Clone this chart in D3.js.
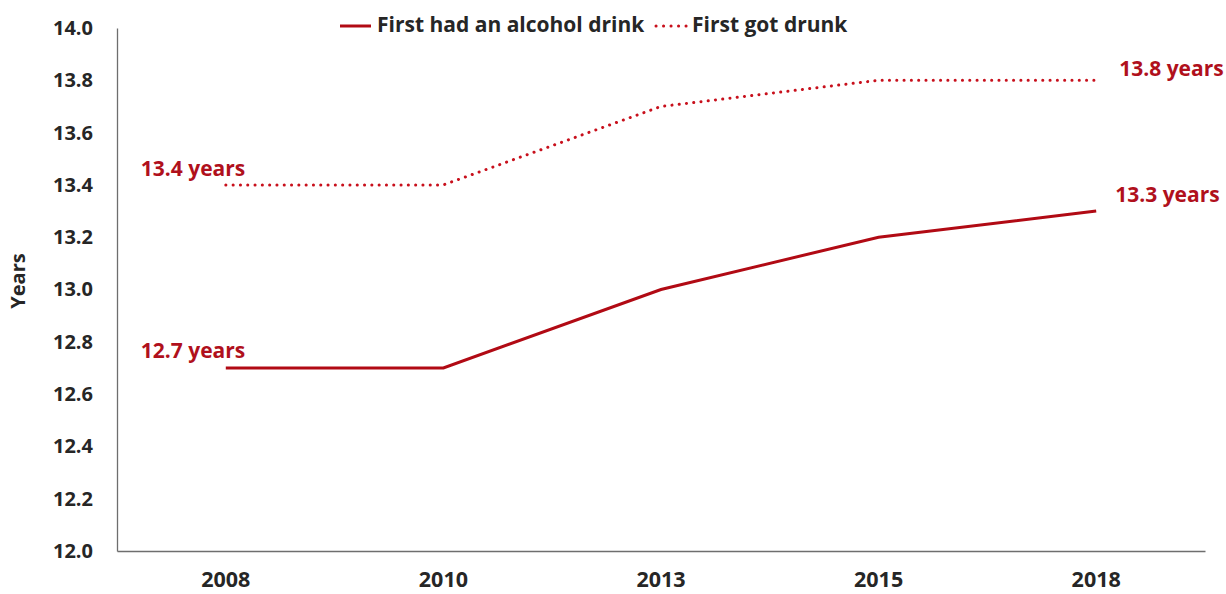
<!DOCTYPE html>
<html>
<head>
<meta charset="utf-8">
<script src="https://cdn.jsdelivr.net/npm/d3@7/dist/d3.min.js"></script>
<style>
  html, body { margin: 0; padding: 0; background: #fff; }
  svg { display: block; font-family: "Open Sans", "Noto Sans", sans-serif; font-weight: 700; }
</style>
</head>
<body>
<svg id="chart" width="1226" height="594"></svg>
<script>
// Survey years and average age (in years) at each milestone
const years = ["2008", "2010", "2013", "2015", "2018"];
const firstDrink = [12.7, 12.7, 13.0, 13.2, 13.3];
const firstDrunk = [13.4, 13.4, 13.7, 13.8, 13.8];
const yTicks = [12.0, 12.2, 12.4, 12.6, 12.8, 13.0, 13.2, 13.4, 13.6, 13.8, 14.0];
const seriesNames = ["First had an alcohol drink", "First got drunk"];

const svg = d3.select("#chart");
const plot = { left: 117, right: 1205, top: 28, bottom: 551 };
const solidColor = "#b10a14";
const dotColor = "#c8101c";
const labelColor = "#b0101c";
const textColor = "#262626";
const font = "'Open Sans', sans-serif";

const x = d3.scaleBand().domain(years).range([plot.left, plot.right]).padding(0);
const y = d3.scaleLinear().domain([12, 14]).range([plot.bottom, plot.top]);
const cx = d => x(d) + x.bandwidth() / 2;

// Y axis (no tick marks, labels only)
const yAxis = svg.append("g")
  .attr("transform", `translate(${plot.left},0)`)
  .call(d3.axisLeft(y).tickValues(yTicks).tickFormat(d3.format(".1f")).tickSize(0).tickPadding(24));
yAxis.select(".domain").attr("stroke", "#6e6e6e").attr("stroke-width", 1.3);
yAxis.selectAll("text").attr("fill", textColor).style("font-size", "20px").style("font-weight", 700)
  .style("font-family", font);

// X axis: year labels sit just above the bottom edge
const xAxis = svg.append("g")
  .attr("transform", `translate(0,${plot.bottom})`)
  .call(d3.axisBottom(x).tickSize(0).tickSizeOuter(0));
xAxis.select(".domain").attr("stroke", "#6e6e6e").attr("stroke-width", 1.3);
xAxis.selectAll("text")
  .attr("y", 36).attr("dy", null)
  .attr("fill", textColor).style("font-size", "21.5px").style("font-weight", 700)
  .style("font-family", font);

// Axis title
svg.append("text")
  .attr("transform", `translate(25,281) rotate(-90)`)
  .attr("text-anchor", "middle")
  .attr("fill", textColor)
  .style("font-size", "20px")
  .text("Years");

const line = d3.line().x((d, i) => cx(years[i])).y(d => y(d));

svg.append("path")
  .datum(firstDrink)
  .attr("d", line)
  .attr("fill", "none")
  .attr("stroke", solidColor)
  .attr("stroke-width", 3);

svg.append("path")
  .datum(firstDrunk)
  .attr("d", line)
  .attr("fill", "none")
  .attr("stroke", dotColor)
  .attr("stroke-width", 3)
  .attr("stroke-linecap", "round")
  .attr("stroke-dasharray", "0.1 7.2");

// Value labels at the first and last year
const fmt = v => `${v.toFixed(1)} years`;
const labels = [
  { v: firstDrunk[0], i: 0, dx: -85, dy: -16 },
  { v: firstDrink[0], i: 0, dx: -85, dy: -18 },
  { v: firstDrunk[4], i: 4, dx: 23, dy: -12 },
  { v: firstDrink[4], i: 4, dx: 19, dy: -17 }
];
svg.selectAll(".vlabel").data(labels).enter().append("text")
  .attr("class", "vlabel")
  .attr("x", d => cx(years[d.i]) + d.dx)
  .attr("y", d => y(d.v) + d.dy)
  .attr("dy", "0.36em")
  .attr("fill", labelColor)
  .style("font-size", "21px")
  .text(d => fmt(d.v));

// Legend
const legend = svg.append("g").attr("transform", "translate(0,26)");
legend.append("line").attr("x1", 340).attr("x2", 371).attr("y1", 0).attr("y2", 0)
  .attr("stroke", solidColor).attr("stroke-width", 3);
legend.append("text").attr("x", 377).attr("y", -2).attr("dy", "0.36em")
  .attr("fill", textColor).style("font-size", "21px").text(seriesNames[0]);
legend.append("line").attr("x1", 656).attr("x2", 687).attr("y1", 0).attr("y2", 0)
  .attr("stroke", dotColor).attr("stroke-width", 3)
  .attr("stroke-linecap", "round").attr("stroke-dasharray", "0.1 7.4");
legend.append("text").attr("x", 692).attr("y", -2).attr("dy", "0.36em")
  .attr("fill", textColor).style("font-size", "21px").text(seriesNames[1]);
</script>
</body>
</html>
